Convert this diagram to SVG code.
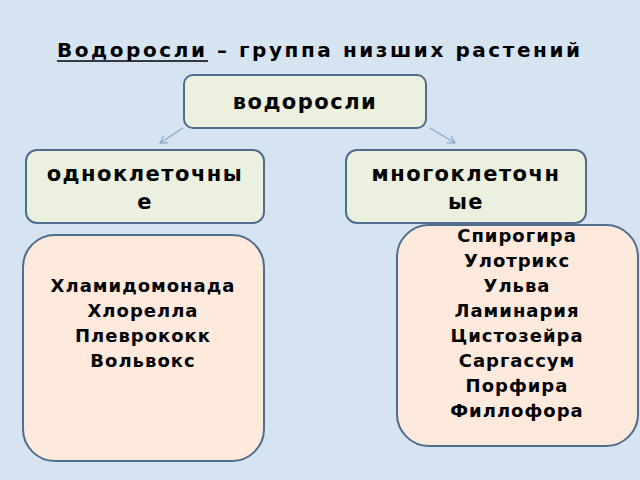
<svg xmlns="http://www.w3.org/2000/svg" width="640" height="480" viewBox="0 0 640 480">
<defs>
<marker id="ah" markerWidth="10" markerHeight="10" refX="8" refY="5" orient="auto" markerUnits="userSpaceOnUse"><path d="M1,1 L8,5 L1,9" fill="none" stroke="#8aa7c8" stroke-width="1.2"/></marker>
</defs>
<style>
.t{font-family:"DejaVu Sans",sans-serif;font-weight:bold;fill:#000;text-anchor:middle}
.h{font-size:21px;letter-spacing:1.5px}
.l{font-size:18px;letter-spacing:1px}
.g{fill:#ebf0df;stroke:#4e6d8f;stroke-width:2}
.p{fill:#fdeadd;stroke:#4e6d8f;stroke-width:2}
</style>
<rect width="640" height="480" fill="#d6e4f2"/>
<text x="57" y="57" class="t" font-size="20" text-anchor="start" style="text-anchor:start" textLength="523" lengthAdjust="spacing">Водоросли – группа низших растений</text>
<line x1="57" y1="61" x2="208" y2="61" stroke="#000" stroke-width="1.5"/>
<g id="connectors">
<line x1="183" y1="128" x2="160" y2="143" stroke="#8aa7c8" stroke-width="1.2" marker-end="url(#ah)"/>
<line x1="430" y1="128" x2="455" y2="143" stroke="#8aa7c8" stroke-width="1.2" marker-end="url(#ah)"/>
</g>
<g id="root"><rect x="184" y="75" width="242" height="53" rx="9" class="g"/><text x="305" y="109" class="t h">водоросли</text></g>
<g id="uni"><rect x="26" y="150" width="238" height="73" rx="11" class="g"/><text x="145" y="181" class="t h">одноклеточны</text><text x="145" y="209" class="t h">е</text></g>
<g id="multi"><rect x="346" y="150" width="240" height="73" rx="11" class="g"/><text x="466" y="181" class="t h">многоклеточн</text><text x="466" y="209" class="t h">ые</text></g>
<g id="unilist"><rect x="23" y="235" width="241" height="226" rx="32" class="p"/>
<text class="t l"><tspan x="143" y="292">Хламидомонада</tspan><tspan x="143" y="317">Хлорелла</tspan><tspan x="143" y="342">Плеврококк</tspan><tspan x="143" y="367">Вольвокс</tspan></text></g>
<g id="multilist"><rect x="397" y="225" width="241" height="221" rx="32" class="p"/>
<text class="t l"><tspan x="517" y="242">Спирогира</tspan><tspan x="517" y="267">Улотрикс</tspan><tspan x="517" y="292">Ульва</tspan><tspan x="517" y="317">Ламинария</tspan><tspan x="517" y="342">Цистозейра</tspan><tspan x="517" y="367">Саргассум</tspan><tspan x="517" y="392">Порфира</tspan><tspan x="517" y="417">Филлофора</tspan></text></g>
</svg>
